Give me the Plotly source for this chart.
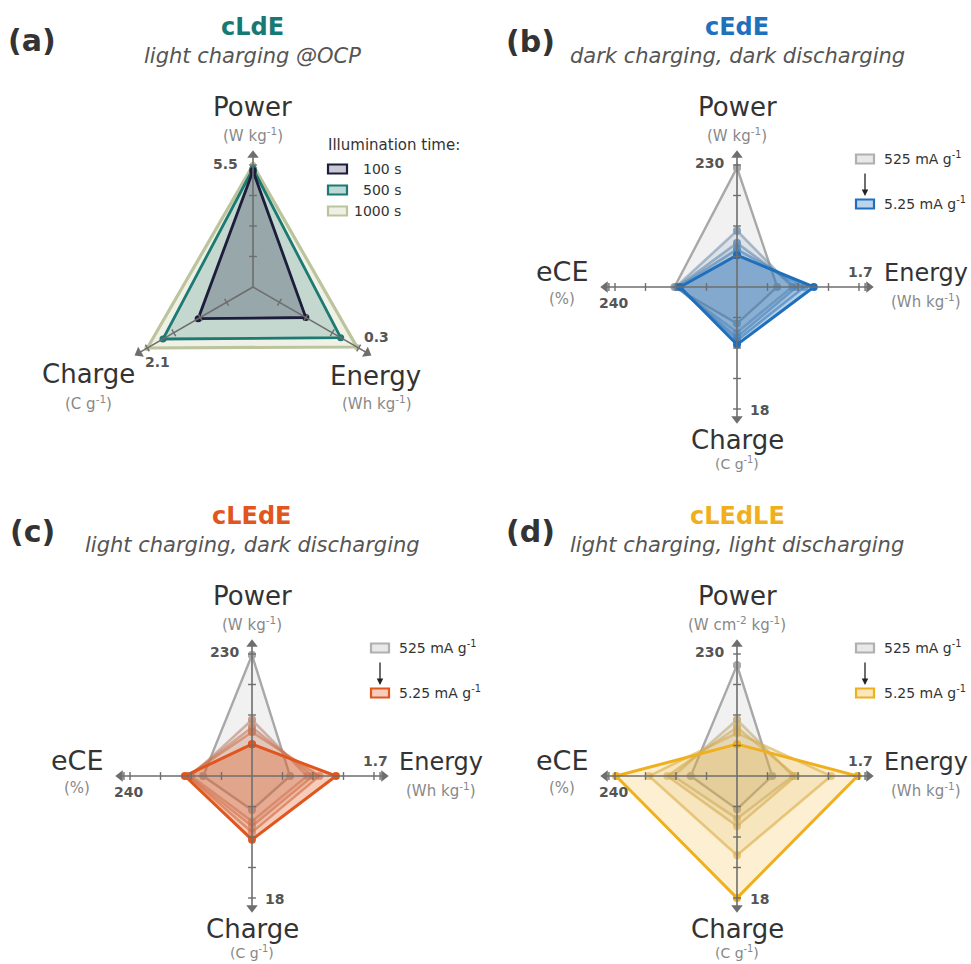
import numpy as np
import plotly.graph_objects as go

W, H = 971, 964
R_PX = 122            # pixels per unit radius (one axis maximum)
HW, HH = 230, 175     # half width / half height of each panel's plotting box (px)
FONT = "DejaVu Sans"
AXIS_GREY = "#6e6e6e"

# ---------------- (a) cLdE : light charging @OCP ----------------
A_AXES = ["Power", "Energy", "Charge"]
A_UNITS = ["(W kg<sup>-1</sup>)", "(Wh kg<sup>-1</sup>)", "(C g<sup>-1</sup>)"]
A_MAX = [5.5, 0.3, 2.1]
A_MAX_LABELS = ["5.5", "0.3", "2.1"]
A_TIMES = ["100 s", "500 s", "1000 s"]
A_POWER = [5.23, 5.33, 5.50]
A_ENERGY = [0.150, 0.249, 0.295]
A_CHARGE = [1.09, 1.79, 2.10]

# ---------------- (b)-(d) : rate series 525 -> 5.25 mA/g ----------------
Q_AXES = ["Power", "Energy", "Charge", "eCE"]
Q_MAX = [230, 1.7, 18, 240]
Q_MAX_LABELS = ["230", "1.7", "18", "240"]
RATE_LABELS = ["525 mA g<sup>-1</sup>", "5.25 mA g<sup>-1</sup>"]

B_POWER = [225, 106, 83, 71, 60]
B_ENERGY = [0.56, 0.77, 0.83, 0.94, 1.07]
B_CHARGE = [5.4, 6.7, 7.4, 7.9, 8.5]
B_ECE = [123, 120, 118, 116, 112]

C_POWER = [228, 106, 92, 83, 60]
C_ENERGY = [0.53, 0.77, 0.85, 0.94, 1.17]
C_CHARGE = [5.0, 6.7, 7.4, 8.3, 9.4]
C_ECE = [96, 120, 125, 127, 132]

D_POWER = [209, 106, 92, 81, 60]
D_ENERGY = [0.49, 0.78, 0.82, 1.31, 1.68]
D_CHARGE = [4.9, 6.3, 7.4, 11.7, 18.0]
D_ECE = [91, 125, 137, 173, 238]

GREY_RGB = (168, 168, 168)


def paper(x, y):
    return x / W, 1 - y / H


fig = go.Figure()
annotations = []
shapes = []


def text(t, x, y, size, color="#333333", xanchor="center", yanchor="middle", style=None):
    px, py = paper(x, y)
    font = dict(family=FONT, size=size, color=color)
    if style:
        font["style"] = style
    annotations.append(dict(text=t, x=px, y=py, xref="paper", yref="paper", showarrow=False,
                            xanchor=xanchor, yanchor=yanchor, font=font))


def add_axes_layout(i, cx, cy):
    x0, x1 = (cx - HW) / W, (cx + HW) / W
    y0, y1 = 1 - (cy + HH) / H, 1 - (cy - HH) / H
    ax = dict(visible=False, fixedrange=True, showgrid=False, zeroline=False)
    suffix = "" if i == 1 else str(i)
    fig.layout["xaxis" + suffix] = dict(ax, domain=[x0, x1], range=[-HW / R_PX, HW / R_PX])
    fig.layout["yaxis" + suffix] = dict(ax, domain=[y0, y1], range=[-HH / R_PX, HH / R_PX])
    return "x" + suffix, "y" + suffix


def polar_xy(r, ang_deg):
    a = np.deg2rad(ang_deg)
    return r * np.sin(a), r * np.cos(a)


def draw_spokes(xr, yr, angles, extra_ticks=None):
    # axis lines with arrow heads and quarter ticks
    extra_ticks = extra_ticks or {}
    lx, ly = [], []
    for ang in angles:
        x, y = polar_xy(np.array([0, 1.08]), ang)
        lx += list(x) + [None]
        ly += list(y) + [None]
    fig.add_trace(go.Scatter(x=lx, y=ly, mode="lines", line=dict(color=AXIS_GREY, width=1.6),
                             hoverinfo="skip", showlegend=False, xaxis=xr, yaxis=yr))
    tx, ty = [], []
    for ang in angles:
        a = np.deg2rad(ang)
        nx, ny = np.cos(a), -np.sin(a)
        for r in [0.25, 0.5, 0.75, 1.0] + list(extra_ticks.get(ang, [])):
            px, py = polar_xy(r, ang)
            d = 0.032
            tx += [px - d * nx, px + d * nx, None]
            ty += [py - d * ny, py + d * ny, None]
    fig.add_trace(go.Scatter(x=tx, y=ty, mode="lines", line=dict(color=AXIS_GREY, width=1.4),
                             hoverinfo="skip", showlegend=False, xaxis=xr, yaxis=yr))
    hx, hy = polar_xy(np.array([1.08] * len(angles)), np.array(angles))
    fig.add_trace(go.Scatter(x=hx, y=hy, mode="markers",
                             marker=dict(symbol="triangle-up", size=10, color=AXIS_GREY,
                                         angle=list(angles), line=dict(width=0)),
                             hoverinfo="skip", showlegend=False, xaxis=xr, yaxis=yr, cliponaxis=False))


def draw_series(xr, yr, values, maxima, angles, line_color, fill_color, width, msize=7):
    r = np.array(values, dtype=float) / np.array(maxima, dtype=float)
    x, y = polar_xy(r, np.array(angles))
    x = list(x) + [x[0]]
    y = list(y) + [y[0]]
    fig.add_trace(go.Scatter(x=x, y=y, mode="lines+markers", fill="toself", fillcolor=fill_color,
                             line=dict(color=line_color, width=width),
                             marker=dict(size=msize, color=line_color),
                             hoverinfo="skip", showlegend=False, xaxis=xr, yaxis=yr, cliponaxis=False))


def rgba(c, a):
    return "rgba(%d,%d,%d,%.3f)" % (c[0], c[1], c[2], a)


def mix(c1, c2, t):
    return tuple(int(round(c1[k] + (c2[k] - c1[k]) * t)) for k in range(3))


# ---------------- panel (a) ----------------
cxa, cya = 253, 287
xa, ya = add_axes_layout(1, cxa, cya)
ang3 = [0, 120, 240]
a_styles = [  # line, fill, width
    ("#1c1d3a", "rgba(60,66,92,0.32)", 2.8),
    ("#1b7a72", "rgba(27,122,114,0.20)", 2.8),
    ("#bcc49d", "rgba(196,202,160,0.26)", 3.2),
]
for k in [2, 1, 0]:
    lc, fc, w = a_styles[k]
    draw_series(xa, ya, [A_POWER[k], A_ENERGY[k], A_CHARGE[k]], A_MAX, ang3, lc, fc, w,
                msize=7 if k < 2 else 0)
draw_spokes(xa, ya, ang3)

text("<b>(a)</b>", 32, 41, 30, "#333333")
text("<b>cLdE</b>", 253, 27, 24, "#177a72")
text("light charging @OCP", 252, 56, 21, "#555555", style="italic")
text(A_AXES[0], cxa, cya - 180, 26)
text(A_UNITS[0], cxa, cya - 152, 15, "#888888")
text(A_AXES[2], cxa - 165, cya + 87, 26)
text(A_UNITS[2], cxa - 165, cya + 116, 15, "#888888")
text(A_AXES[1], cxa + 122, cya + 89, 26)
text(A_UNITS[1], cxa + 124, cya + 116, 15, "#888888")
text("<b>%s</b>" % A_MAX_LABELS[0], cxa - 13, cya - 123, 14, "#555555", xanchor="right")
text("<b>%s</b>" % A_MAX_LABELS[1], cxa + 109, cya + 50, 14, "#555555", xanchor="left")
text("<b>%s</b>" % A_MAX_LABELS[2], cxa - 110, cya + 75, 14, "#555555", xanchor="left")

# legend (a)
text("Illumination time:", 326, 145, 15, "#333333", xanchor="left")
a_leg_fill = ["#c9c9d6", "#bcd9d5", "#eef0e4"]
for k, t in enumerate(A_TIMES):
    yc = 169 + 21 * k
    x0, y0 = paper(328, yc - 4.5)
    x1, y1 = paper(347, yc + 4.5)
    shapes.append(dict(type="rect", xref="paper", yref="paper", x0=x0, x1=x1, y0=y0, y1=y1,
                       fillcolor=a_leg_fill[k], line=dict(color=a_styles[k][0], width=2.2)))
    text(t, 403, yc, 14, "#333333", xanchor="right")

# ---------------- panels (b)-(d) ----------------
ang4 = [0, 90, 180, 270]
panels = [
    dict(idx=2, cx=737, cy=287, lx=530, letter="(b)", title="cEdE", tcolor="#1f71bd",
         sub="dark charging, dark discharging", color=(31, 111, 189),
         data=(B_POWER, B_ENERGY, B_CHARGE, B_ECE), falpha=0.33, ialpha=0.16,
         punit="(W kg<sup>-1</sup>)"),
    dict(idx=3, cx=252, cy=776, lx=32, letter="(c)", title="cLEdE", tcolor="#e0561e",
         sub="light charging, dark discharging", color=(224, 86, 30),
         data=(C_POWER, C_ENERGY, C_CHARGE, C_ECE), falpha=0.30, ialpha=0.14,
         punit="(W kg<sup>-1</sup>)"),
    dict(idx=4, cx=737, cy=776, lx=530, letter="(d)", title="cLEdLE", tcolor="#f0b01e",
         sub="light charging, light discharging", color=(240, 176, 30),
         data=(D_POWER, D_ENERGY, D_CHARGE, D_ECE), falpha=0.20, ialpha=0.15,
         punit="(W cm<sup>-2</sup> kg<sup>-1</sup>)"),
]

mix_steps = [0.0, 0.35, 0.5, 0.65, 1.0]

for p in panels:
    cx, cy = p["cx"], p["cy"]
    xr, yr = add_axes_layout(p["idx"], cx, cy)
    power, energy, charge, ece = p["data"]
    n = len(power)
    for k in range(n):
        t = mix_steps[k]
        c = mix(GREY_RGB, p["color"], t)
        if k == 0:
            lc, fc, w = rgba(GREY_RGB, 1.0), rgba((195, 195, 195), 0.24), 2.4
        elif k == n - 1:
            lc, fc, w = rgba(c, 1.0), rgba(c, p["falpha"]), 3.0
        else:
            lc, fc, w = rgba(c, 0.6), rgba(c, p["ialpha"]), 2.6
        draw_series(xr, yr, [power[k], energy[k], charge[k], ece[k]], Q_MAX, ang4, lc, fc, w, msize=8)
    draw_spokes(xr, yr, ang4, extra_ticks={90: [1.05], 270: [1.05]})

    text("<b>%s</b>" % p["letter"], p["lx"], cy - 245, 30, "#333333")
    text("<b>%s</b>" % p["title"], cx, cy - 260, 24, p["tcolor"])
    text(p["sub"], cx, cy - 231, 21, "#555555", style="italic")

    text(Q_AXES[0], cx, cy - 180, 26)
    text(p["punit"], cx, cy - 152, 15, "#888888")
    text(Q_AXES[1], cx + 145, cy - 14, 24, xanchor="left")
    text(A_UNITS[1], cx + 189, cy + 14, 15, "#888888")
    text(Q_AXES[2], cx, cy + 153, 26)
    text("(C g<sup>-1</sup>)", cx, cy + 176, 14, "#888888")
    text(Q_AXES[3], cx - 175, cy - 16, 27)
    text("(%)", cx - 175, cy + 12, 15, "#888888")

    text("<b>%s</b>" % Q_MAX_LABELS[0], cx - 11, cy - 124, 14, "#555555", xanchor="right")
    text("<b>%s</b>" % Q_MAX_LABELS[1], cx + 123, cy - 15, 14, "#555555")
    text("<b>%s</b>" % Q_MAX_LABELS[2], cx + 11, cy + 123, 14, "#555555", xanchor="left")
    text("<b>%s</b>" % Q_MAX_LABELS[3], cx - 124, cy + 16, 14, "#555555")

    # rate legend
    lx = cx + 128
    for k, (lab, ly) in enumerate(zip(RATE_LABELS, [cy - 128, cy - 83])):
        if k == 0:
            lcol, fcol = "#b0b0b0", "#e8e8e8"
        else:
            lcol, fcol = rgba(p["color"], 1.0), rgba(p["color"], 0.3)
        x0, y0 = paper(lx - 9, ly - 4.5)
        x1, y1 = paper(lx + 9, ly + 4.5)
        shapes.append(dict(type="rect", xref="paper", yref="paper", x0=x0, x1=x1, y0=y0, y1=y1,
                           fillcolor=fcol, line=dict(color=lcol, width=2.2)))
        text(lab, lx + 17, ly - 1, 14, "#333333", xanchor="left")
    ax_, ay_ = paper(lx, cy - 91)
    annotations.append(dict(x=ax_, y=ay_, xref="paper", yref="paper", showarrow=True,
                            ax=0, ay=-24, arrowhead=2, arrowsize=1, arrowwidth=1.3,
                            arrowcolor="#222222", text=""))

fig.update_layout(width=W, height=H, margin=dict(l=0, r=0, t=0, b=0),
                  paper_bgcolor="white", plot_bgcolor="white",
                  annotations=annotations, shapes=shapes, showlegend=False)
fig.write_html("out.html")
